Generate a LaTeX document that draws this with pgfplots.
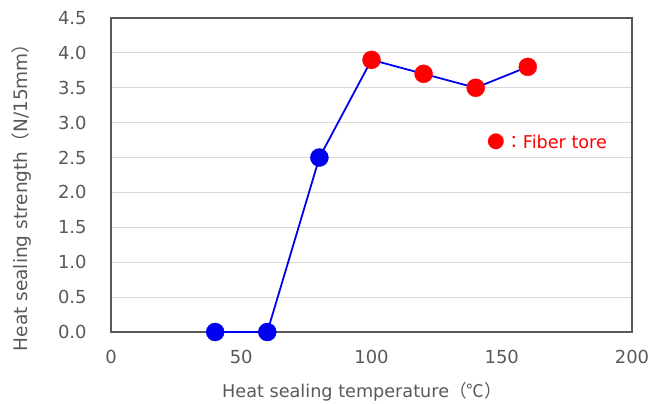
\documentclass[border=0pt]{standalone}
\usepackage{pgfplots}
\pgfplotsset{compat=1.18}
\usepackage{fontspec}
\setmainfont{DejaVu Sans}
\newfontfamily\cjk{Noto Sans CJK JP}
\definecolor{txtgray}{HTML}{595959}
\definecolor{gridgray}{HTML}{D9D9D9}
\definecolor{ptblue}{HTML}{0000F0}
\definecolor{ptred}{HTML}{FF0000}
\begin{document}
\begin{tikzpicture}
\useasboundingbox (-111bp,-72bp) rectangle (546bp,332bp);
\begin{axis}[
  scale only axis,
  width=521bp, height=314bp,
  xmin=0, xmax=200, ymin=0, ymax=4.5,
  xtick={0,50,...,200},
  ytick={0,0.5,...,4.5},
  yticklabel style={/pgf/number format/.cd,fixed,fixed zerofill,precision=1,/tikz/.cd},
  /pgf/number format/assume math mode=true,
  major tick length=0pt,
  ymajorgrids, grid style={gridgray, line width=0.8pt},
  axis line style={txtgray, line width=1.3pt},
  tick label style={txtgray, font=\fontsize{18}{20}\selectfont},
  xticklabel style={yshift=-15pt},
  yticklabel style={xshift=-21pt},
  xlabel={Heat sealing temperature{\cjk（℃）}},
  ylabel={Heat sealing strength{\cjk（}N/15mm{\cjk）}},
  xlabel style={txtgray, font=\fontsize{17.7}{20}\selectfont,
    at={(axis description cs:0.482,-0.191)}, anchor=center},
  ylabel style={txtgray, font=\fontsize{18.6}{20}\selectfont,
    at={(axis description cs:-0.171,0.443)}, anchor=center},
]
\addplot[ptblue, line width=1.8pt]
  coordinates {(40,0) (60,0) (80,2.5) (100,3.9) (120,3.7) (140,3.5) (160,3.8)};
\addplot[ptblue, only marks, mark=*, mark size=9bp,
  mark options={ptblue, fill=ptblue}]
  coordinates {(40,0) (60,0) (80,2.5)};
\addplot[ptred, only marks, mark=*, mark size=9bp,
  mark options={ptred, fill=ptred}]
  coordinates {(100,3.9) (120,3.7) (140,3.5) (160,3.8)};
\node[anchor=west, text=ptred, inner sep=0pt, font=\fontsize{17.7}{20}\selectfont]
  at (axis cs:144.5,2.72) {{\cjk ●：}Fiber tore};
\end{axis}
\end{tikzpicture}
\end{document}
